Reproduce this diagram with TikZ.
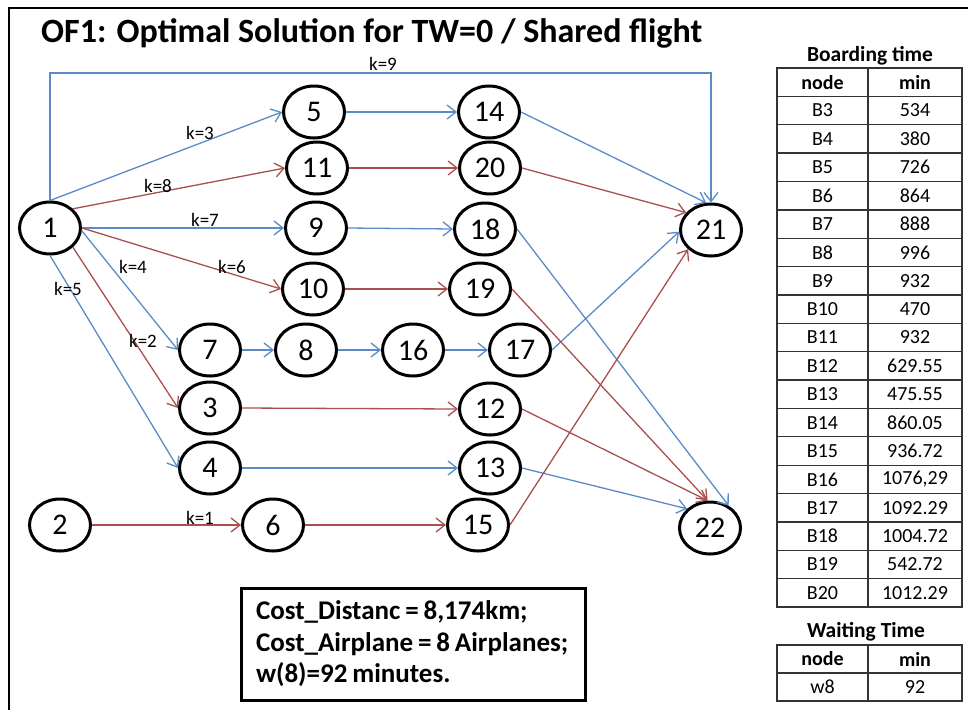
\documentclass[tikz,border=0pt]{standalone}
\usepackage{fontspec}
\setmainfont{Carlito}
\usetikzlibrary{shapes.geometric,arrows.meta,positioning}
\definecolor{ofblue}{HTML}{5B8BC7}
\definecolor{ofred}{HTML}{A9504E}
\definecolor{ofgrid}{HTML}{333333}

\begin{document}
\begin{tikzpicture}[
    x=1pt, y=-1pt,
    city/.style={ellipse, draw, line width=3pt, minimum width=61pt, minimum height=52pt, inner sep=0pt, font=\fontsize{30}{30}\selectfont},
    blueleg/.style={draw=ofblue, line width=1.3pt, -{Straight Barb[length=9pt,width=14pt]}},
    redleg/.style={draw=ofred, line width=1.3pt, -{Straight Barb[length=9pt,width=14pt]}},
    klabel/.style={inner sep=0pt, font=\fontsize{19}{19}\selectfont},
    lcell/.style={draw=ofgrid, line width=1.3pt, outer sep=0pt, minimum width=91pt, minimum height=28.37pt, inner sep=0pt, font=\fontsize{20}{20}\selectfont},
    rcell/.style={lcell, minimum width=94pt},
    tabtitle/.style={inner sep=0pt, font=\bfseries\fontsize{21.5}{22}\selectfont}
]
    \useasboundingbox (0,0) rectangle (968,710);

    % frame
    \draw[line width=2.5pt] (9,710) -- (9,8) -- (968,8);
    \node[anchor=base west, inner sep=0pt, font=\bfseries\fontsize{34}{34}\selectfont] (title) at (41,42) {OF1: Optimal Solution for TW=0 / Shared flight};

    % airports
    \node[city] (n1) at (50,228) {1};
    \node[city] (n2) at (60,525) {2};
    \node[city] (n5) at (314,112) {5};
    \node[city] (n11) at (317,168) {11};
    \node[city] (n9) at (316,228) {9};
    \node[city] (n10) at (313,289) {10};
    \node[city] (n7) at (210,350) {7};
    \node[city] (n8) at (306,350) {8};
    \node[city] (n16) at (413,350) {16};
    \node[city] (n17) at (520,350) {17};
    \node[city] (n3) at (210,408) {3};
    \node[city] (n4) at (210,468) {4};
    \node[city] (n6) at (273,525) {6};
    \node[city] (n14) at (489,112) {14};
    \node[city] (n20) at (490,168) {20};
    \node[city] (n18) at (485,229) {18};
    \node[city] (n19) at (480,289) {19};
    \node[city] (n12) at (490,409) {12};
    \node[city] (n13) at (490,468) {13};
    \node[city] (n15) at (478,525) {15};
    \node[city] (n21) at (711,230) {21};
    \node[city] (n22) at (710,528) {22};

    % blue flights
    \coordinate (k9top) at (383,73);
    \draw[blueleg] (n1.north) |- (k9top) -| (n21.north);
    \draw[blueleg] (n1.north) -- (n5.west);
    \draw[blueleg] (n1.east) -- (n9.west);
    \draw[blueleg] (n1.355) -- (n7.west);
    \draw[blueleg] (n1.south) -- (n4.west);
    \draw[blueleg] (n5.east) -- (n14.west);
    \draw[blueleg] (n14.east) -- (n21.100);
    \draw[blueleg] (n9.east) -- (n18.west);
    \draw[blueleg] (n18.east) -- (n22.50);
    \draw[blueleg] (n7.east) -- (n8.west);
    \draw[blueleg] (n8.east) -- (n16.west);
    \draw[blueleg] (n16.east) -- (n17.west);
    \draw[blueleg] (n17.east) -- (n21.183);
    \draw[blueleg] (n4.east) -- (n13.west);
    \draw[blueleg] (n13.east) -- (n22.140);

    % red flights
    \draw[redleg] (n1.40) -- (n11.west);
    \draw[redleg] (n1.east) -- (n10.west);
    \draw[redleg] (n1.320) -- (n3.west);
    \draw[redleg] (n11.east) -- (n20.west);
    \draw[redleg] (n20.east) -- (n21.145);
    \draw[redleg] (n10.east) -- (n19.west);
    \draw[redleg] (n19.east) -- (n22.95);
    \draw[redleg] (n3.east) -- (n12.west);
    \draw[redleg] (n12.east) -- (n22.95);
    \draw[redleg] (n2.east) -- (n6.west);
    \draw[redleg] (n6.east) -- (n15.west);
    \draw[redleg] (n15.east) -- (n21.220);

    % airplane labels
    \node[klabel] (k9) at (383,64) {k=9};
    \node[klabel] (k3) at (200,133) {k=3};
    \node[klabel] (k8) at (158,186) {k=8};
    \node[klabel] (k7) at (205,220) {k=7};
    \node[klabel] (k4) at (133,267) {k=4};
    \node[klabel] (k6) at (232,267) {k=6};
    \node[klabel] (k5) at (68,289) {k=5};
    \node[klabel] (k2) at (143,341) {k=2};
    \node[klabel] (k1) at (200,518) {k=1};

    % costs
    \node[draw, line width=3pt, minimum width=344pt, minimum height=112pt, inner xsep=15pt, text width=314pt, align=left, font=\bfseries\fontsize{27}{31.5}\selectfont] (cost) at (413,644)
        {\spaceskip=0.18em\relax Cost\_Distanc = 8,174km;\\Cost\_Airplane = 8 Airplanes;\\w(8)=92 minutes.};

    % boarding time table
    \node[tabtitle] (bttitle) at (870,56) {Boarding time};
    \node[lcell, font=\bfseries\fontsize{20}{20}\selectfont] (bhn) at (822.5,82.2) {node};
    \node[rcell, font=\bfseries\fontsize{20}{20}\selectfont, right=0pt of bhn] (bhm) {min};
    \node[lcell, below=0pt of bhn] (b3) {B3};      \node[rcell, right=0pt of b3] (m3) {534};
    \node[lcell, below=0pt of b3] (b4) {B4};       \node[rcell, right=0pt of b4] (m4) {380};
    \node[lcell, below=0pt of b4] (b5) {B5};       \node[rcell, right=0pt of b5] (m5) {726};
    \node[lcell, below=0pt of b5] (b6) {B6};       \node[rcell, right=0pt of b6] (m6) {864};
    \node[lcell, below=0pt of b6] (b7) {B7};       \node[rcell, right=0pt of b7] (m7) {888};
    \node[lcell, below=0pt of b7] (b8) {B8};       \node[rcell, right=0pt of b8] (m8) {996};
    \node[lcell, below=0pt of b8] (b9) {B9};       \node[rcell, right=0pt of b9] (m9) {932};
    \node[lcell, below=0pt of b9] (b10) {B10};     \node[rcell, right=0pt of b10] (m10) {470};
    \node[lcell, below=0pt of b10] (b11) {B11};    \node[rcell, right=0pt of b11] (m11) {932};
    \node[lcell, below=0pt of b11] (b12) {B12};    \node[rcell, right=0pt of b12] (m12) {629.55};
    \node[lcell, below=0pt of b12] (b13) {B13};    \node[rcell, right=0pt of b13] (m13) {475.55};
    \node[lcell, below=0pt of b13] (b14) {B14};    \node[rcell, right=0pt of b14] (m14) {860.05};
    \node[lcell, below=0pt of b14] (b15) {B15};    \node[rcell, right=0pt of b15] (m15) {936.72};
    \node[lcell, below=0pt of b15] (b16) {B16};    \node[rcell, right=0pt of b16] (m16) {1076,29};
    \node[lcell, below=0pt of b16] (b17) {B17};    \node[rcell, right=0pt of b17] (m17) {1092.29};
    \node[lcell, below=0pt of b17] (b18) {B18};    \node[rcell, right=0pt of b18] (m18) {1004.72};
    \node[lcell, below=0pt of b18] (b19) {B19};    \node[rcell, right=0pt of b19] (m19) {542.72};
    \node[lcell, below=0pt of b19] (b20) {B20};    \node[rcell, right=0pt of b20] (m20) {1012.29};

    % waiting time table
    \node[tabtitle] (wttitle) at (866,632) {Waiting Time};
    \node[lcell, font=\bfseries\fontsize{20}{20}\selectfont, minimum height=28pt] (whn) at (822.5,659) {node};
    \node[rcell, font=\bfseries\fontsize{20}{20}\selectfont, minimum height=28pt, right=0pt of whn] (whm) {min};
    \node[lcell, minimum height=28pt, below=0pt of whn] (w8) {w8};
    \node[rcell, minimum height=28pt, right=0pt of w8] (wm8) {92};
\end{tikzpicture}
\end{document}
